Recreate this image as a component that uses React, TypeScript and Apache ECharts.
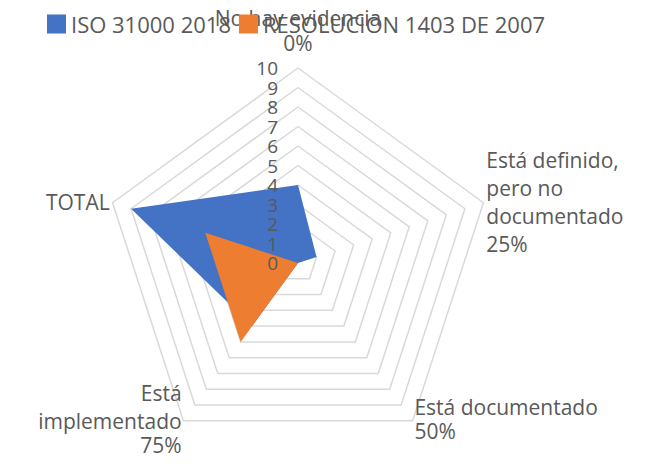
import React, { useEffect, useRef } from "react";
import * as echarts from "echarts";

// Categories in the reference's clockwise order, starting at the top
const categories = [
  "No hay evidencia\n0%",
  "Está definido,\npero no\ndocumentado\n25%",
  "Está documentado\n50%",
  "Está\nimplementado\n75%",
  "TOTAL",
];
const isoValues = [4, 1, 0, 4, 9];
const resolucionValues = [0, 0, 0, 5, 5];
const seriesNames = ["ISO 31000 2018", "RESOLUCION 1403 DE 2007"];
const axisMax = 10;

// ECharts lays indicators counter-clockwise; reorder to keep reference's clockwise order
const order = [0, 4, 3, 2, 1];
// indices (in categories) whose label block is nudged upwards
const raised = [0, 2, 3];

export default function App() {
  const ref = useRef<HTMLDivElement>(null);
  useEffect(() => {
    if (!ref.current) return;
    const chart = echarts.init(ref.current, undefined, { renderer: "svg" });
    const font = "'Open Sans', 'Noto Sans', sans-serif";
    const center = [298, 263];
    const radius = 195;
    const baseIndicator = order.map((i) => ({ name: categories[i], min: 0, max: axisMax }));
    const labelIndicator = order.map((i, k) => {
      const ind: any = { name: categories[i], min: 0, max: axisMax };
      if (k === 0) {
        ind.axisLabel = {
          show: true,
          color: "#595959",
          fontSize: 19,
          lineHeight: 19,
          fontFamily: font,
          margin: 20,
          hideOverlap: false,
          showMinLabel: true,
          showMaxLabel: true,
        };
      }
      return ind;
    });
    const nameFormatter = (name: string) => {
      const idx = categories.indexOf(name);
      const lines = name.split("\n");
      if (raised.indexOf(idx) < 0) return lines.map((l) => `{n|${l}}`).join("\n");
      return lines
        .map((l, j) => (j === lines.length - 1 ? `{last|${l}}` : `{n|${l}}`))
        .join("\n");
    };
    chart.setOption({
      animation: false,
      color: ["#4472C4", "#ED7D31"],
      legend: {
        data: seriesNames,
        left: 42,
        top: 8,
        icon: "rect",
        itemWidth: 19,
        itemHeight: 19,
        itemGap: 8,
        textStyle: { color: "#595959", fontSize: 22, fontFamily: font },
      },
      radar: [
        {
          center,
          radius,
          startAngle: 90,
          splitNumber: 10,
          shape: "polygon",
          indicator: baseIndicator,
          nameGap: 3,
          axisName: {
            color: "#595959",
            fontSize: 21,
            lineHeight: 27,
            fontFamily: font,
            formatter: nameFormatter,
            rich: {
              n: { color: "#595959", fontSize: 21, lineHeight: 28, fontFamily: font },
              last: {
                color: "#595959",
                fontSize: 21,
                lineHeight: 33,
                verticalAlign: "top",
                fontFamily: font,
              },
            },
          },
          axisLine: { show: false },
          axisTick: { show: false },
          axisLabel: { show: false },
          splitArea: { show: false },
          splitLine: { lineStyle: { color: "#D9D9D9", width: 1.5 } },
        },
        {
          center,
          radius,
          startAngle: 90,
          splitNumber: 10,
          shape: "polygon",
          indicator: labelIndicator,
          z: 10,
          axisName: { show: false },
          axisLine: { show: false },
          axisTick: { show: false },
          axisLabel: { show: false },
          splitArea: { show: false },
          splitLine: { show: false },
        },
      ],
      series: [
        {
          type: "radar",
          radarIndex: 0,
          symbol: "none",
          data: [
            {
              name: seriesNames[0],
              value: order.map((i) => isoValues[i]),
              lineStyle: { width: 0 },
              areaStyle: { color: "#4472C4", opacity: 1 },
            },
            {
              name: seriesNames[1],
              value: order.map((i) => resolucionValues[i]),
              lineStyle: { width: 0 },
              areaStyle: { color: "#ED7D31", opacity: 1 },
            },
          ],
        },
      ],
    });
    return () => chart.dispose();
  }, []);
  return (
    <div
      ref={ref}
      style={{ position: "absolute", left: 0, top: 0, width: 653, height: 464, background: "#fff" }}
    />
  );
}
